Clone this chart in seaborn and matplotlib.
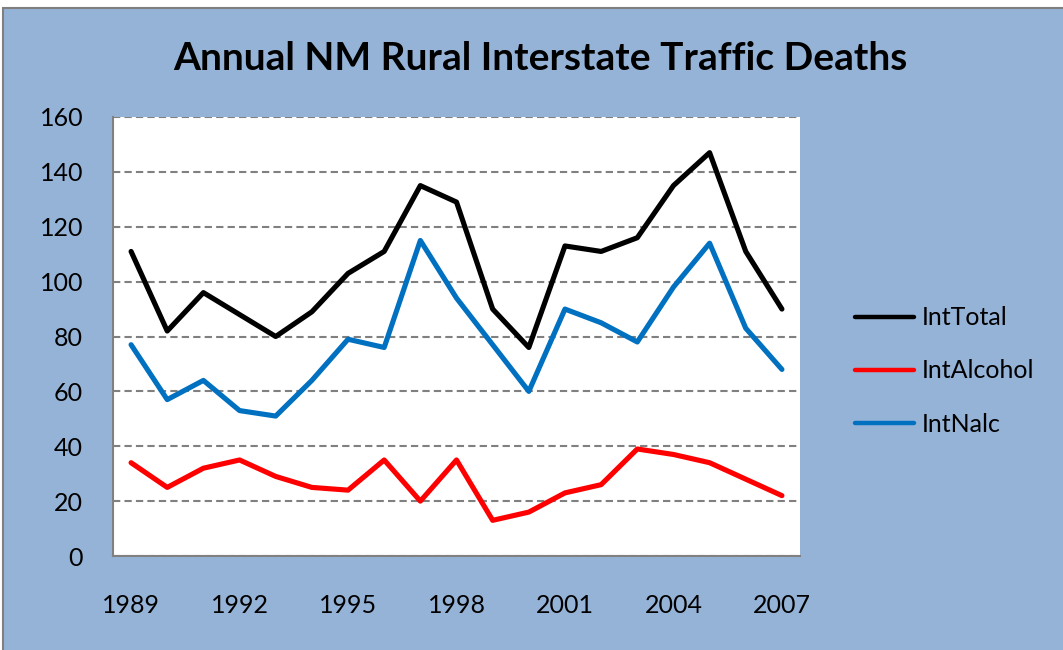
import matplotlib.pyplot as plt
import seaborn as sns
import pandas as pd
import numpy as np
from matplotlib.patches import Rectangle

years = list(range(1989, 2008))
int_total = [111, 82, 96, 88, 80, 89, 103, 111, 135, 129, 90, 76, 113, 111, 116, 135, 147, 111, 90]
int_alcohol = [34, 25, 32, 35, 29, 25, 24, 35, 20, 35, 13, 16, 23, 26, 39, 37, 34, 28, 22]
int_nalc = [77, 57, 64, 53, 51, 64, 79, 76, 115, 94, 77, 60, 90, 85, 78, 98, 114, 83, 68]
series_names = ["IntTotal", "IntAlcohol", "IntNalc"]
series_colors = ["#000000", "#FF0000", "#0070C0"]
tick_years = [1989, 1992, 1995, 1998, 2001, 2004, 2007]
y_ticks = [0, 20, 40, 60, 80, 100, 120, 140, 160]
title = "Annual NM Rural Interstate Traffic Deaths"

df = pd.DataFrame({
    "year": years * 3,
    "deaths": int_total + int_alcohol + int_nalc,
    "series": [s for s in series_names for _ in years],
})

sns.set_style("white")
plt.rcParams['font.family'] = ['Lato', 'DejaVu Sans']
plt.rcParams['text.color'] = 'black'
plt.rcParams['xtick.color'] = 'black'
plt.rcParams['ytick.color'] = 'black'

W, H = 1063, 650
fig = plt.figure(figsize=(W / 100, H / 100), dpi=100, facecolor="white")
# light blue chart area with grey frame (runs off the right/bottom edge)
fig.patches.append(Rectangle((3 / W, -0.1), 1.2, 1.1 - 8 / H, transform=fig.transFigure,
                             facecolor="#95B3D7", edgecolor="#7F7F7F", linewidth=1.5, zorder=-5))

ax = fig.add_axes([113 / W, 1 - 556 / H, (800 - 113) / W, (556 - 117) / H])
ax.set_zorder(2)
ax.set_facecolor("white")

sns.lineplot(data=df, x="year", y="deaths", hue="series", hue_order=series_names,
             palette=dict(zip(series_names, series_colors)), linewidth=3.7, ax=ax)

ax.set_xlim(1988.5, 2007.5)
ax.set_ylim(0, 160)
ax.set_xlabel("")
ax.set_ylabel("")

ax.set_xticks(tick_years)
ax.set_xticks(np.arange(1988.5, 2008, 1), minor=True)
ax.tick_params(axis="x", which="major", length=0, pad=27.5, labelsize=18)
ax.tick_params(axis="x", which="minor", length=6, width=1.5, color="#808080", direction="out")
ax.set_yticks(y_ticks)
ax.tick_params(axis="y", length=5.5, width=1.5, color="#808080", direction="out", pad=16, labelsize=18)

ax.yaxis.grid(True, color="#808080", linewidth=1.5, linestyle=(0, (3.5, 2)))
ax.set_axisbelow(True)
for side in ["top", "right"]:
    ax.spines[side].set_visible(False)
for side in ["left", "bottom"]:
    ax.spines[side].set_color("#808080")
    ax.spines[side].set_linewidth(1.5)

handles, labels = ax.get_legend_handles_labels()
leg = ax.legend(handles, labels, loc="center left", bbox_to_anchor=(832 / W, 1 - 371 / H),
                bbox_transform=fig.transFigure, frameon=False, fontsize=18,
                handlelength=2.36, labelspacing=1.21, handletextpad=0.35)
for line in leg.get_lines():
    line.set_linewidth(3.2)

fig.text(540 / W, 1 - 58 / H, title, ha="center", va="center", fontsize=28, fontweight="bold")

fig.savefig("out.png", dpi=100, facecolor=fig.get_facecolor())
